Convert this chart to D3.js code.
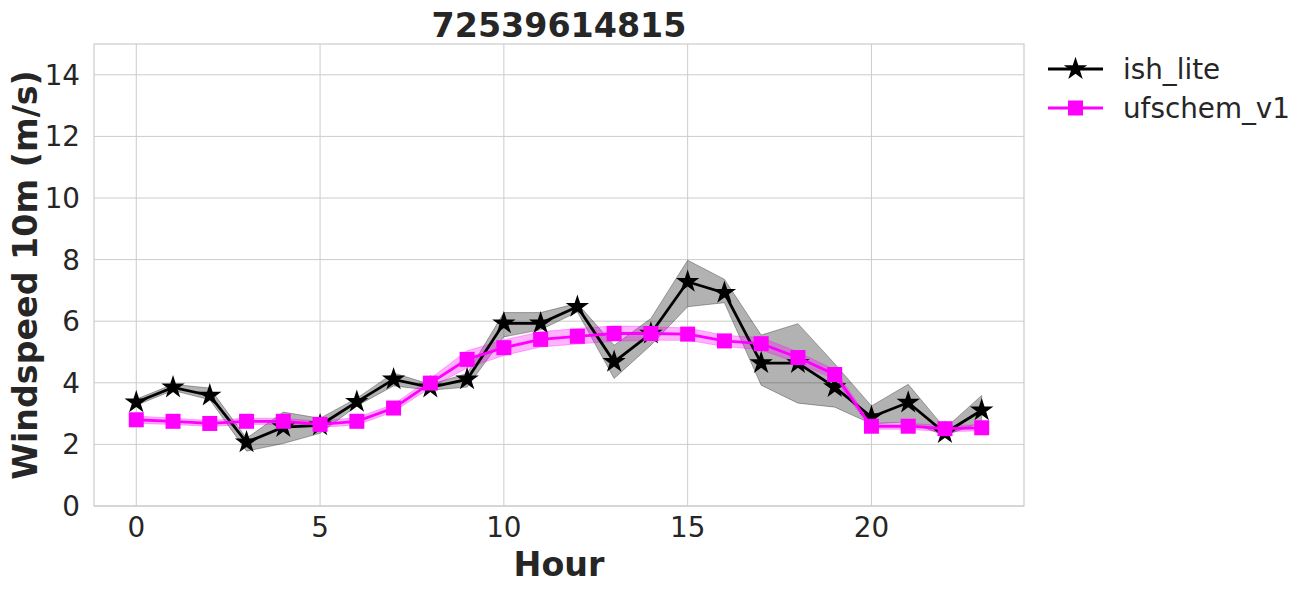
<!DOCTYPE html>
<html>
<head>
<meta charset="utf-8">
<script src="https://cdn.jsdelivr.net/npm/d3@7"></script>
<style>
  body { margin: 0; background: #fff; }
  text { font-family: "DejaVu Sans", sans-serif; fill: #262626; }
</style>
</head>
<body>
<svg width="1303" height="592"></svg>
<script>
// hourly windspeed
const hours = d3.range(0, 24);
const ishMean = [3.37, 3.85, 3.59, 2.07, 2.56, 2.62, 3.38, 4.11, 3.85, 4.11, 5.93, 5.93,
                 6.47, 4.68, 5.6, 7.28, 6.92, 4.64, 4.64, 3.86, 2.89, 3.36, 2.37, 3.11];
const ishLow  = [3.27, 3.75, 3.45, 1.78, 2.03, 2.36, 3.25, 3.9, 3.76, 3.86, 5.49, 5.72,
                 6.3, 4.14, 5.22, 6.47, 6.6, 3.92, 3.34, 3.21, 2.67, 2.73, 2.29, 2.72];
const ishHigh = [3.47, 3.95, 3.83, 2.2, 3.05, 2.85, 3.5, 4.32, 3.95, 4.3, 6.28, 6.28,
                 6.58, 5.22, 6.09, 7.98, 7.36, 5.55, 5.92, 4.62, 3.25, 3.95, 2.52, 3.59];
const ufsMean = [2.8, 2.75, 2.68, 2.75, 2.75, 2.65, 2.75, 3.18, 3.99, 4.76, 5.14, 5.41,
                 5.51, 5.6, 5.6, 5.58, 5.36, 5.27, 4.82, 4.27, 2.59, 2.59, 2.51, 2.54];
const ufsSpread = [0.12, 0.1, 0.1, 0.1, 0.1, 0.1, 0.12, 0.12, 0.15, 0.28, 0.25, 0.25,
                   0.25, 0.25, 0.22, 0.2, 0.18, 0.2, 0.18, 0.15, 0.1, 0.1, 0.1, 0.1];
const xTicks = [0, 5, 10, 15, 20];
const yTicks = [0, 2, 4, 6, 8, 10, 12, 14];
const seriesNames = ["ish_lite", "ufschem_v1"];
const seriesColors = ["#000000", "#ff00ff"];

let svg = d3.select("svg");
let marginLeft = 94, marginTop = 44, width = 930, height = 462;
let g = svg.append("g").attr("transform", "translate(" + marginLeft + "," + marginTop + ")");

let x = d3.scaleLinear().domain([-1.15, 24.15]).range([0, width]);
let y = d3.scaleLinear().domain([0, 15]).range([height, 0]);

// grid
g.selectAll(".gx").data(xTicks).enter().append("line")
    .attr("x1", d => x(d)).attr("x2", d => x(d))
    .attr("y1", 0).attr("y2", height)
    .attr("stroke", "#cccccc").attr("stroke-width", 1);
g.selectAll(".gy").data(yTicks).enter().append("line")
    .attr("x1", 0).attr("x2", width)
    .attr("y1", d => y(d)).attr("y2", d => y(d))
    .attr("stroke", "#cccccc").attr("stroke-width", 1);

// bands
g.append("path")
    .datum(hours)
    .attr("d", d3.area().x((d, i) => x(hours[i]))
        .y0((d, i) => y(ishLow[i])).y1((d, i) => y(ishHigh[i])))
    .attr("fill", "#000").attr("fill-opacity", 0.3)
    .attr("stroke", "#000").attr("stroke-opacity", 0.3).attr("stroke-width", 1);
g.append("path")
    .datum(hours)
    .attr("d", d3.area().x((d, i) => x(hours[i]))
        .y0((d, i) => y(ufsMean[i] - ufsSpread[i]))
        .y1((d, i) => y(ufsMean[i] + ufsSpread[i])))
    .attr("fill", "#ff00ff").attr("fill-opacity", 0.3)
    .attr("stroke", "#ff00ff").attr("stroke-opacity", 0.3).attr("stroke-width", 1);

const line = d3.line().x((d, i) => x(hours[i])).y(d => y(d));
const star = d3.symbol().type(d3.symbolStar).size(170);
const square = d3.symbol().type(d3.symbolSquare).size(225);

// ish_lite
g.append("path").datum(ishMean).attr("d", line)
    .attr("fill", "none").attr("stroke", seriesColors[0]).attr("stroke-width", 2.8);
g.selectAll(".star").data(ishMean).enter().append("path")
    .attr("d", star)
    .attr("transform", (d, i) => "translate(" + x(hours[i]) + "," + y(d) + ")")
    .attr("fill", seriesColors[0]);

// ufschem_v1
g.append("path").datum(ufsMean).attr("d", line)
    .attr("fill", "none").attr("stroke", seriesColors[1]).attr("stroke-width", 2.8);
g.selectAll(".sq").data(ufsMean).enter().append("path")
    .attr("d", square)
    .attr("transform", (d, i) => "translate(" + x(hours[i]) + "," + y(d) + ")")
    .attr("fill", seriesColors[1]);

// frame
g.append("rect").attr("width", width).attr("height", height)
    .attr("fill", "none").attr("stroke", "#cccccc").attr("stroke-width", 1.2);

// tick labels
g.selectAll(".xt").data(xTicks).enter().append("text")
    .attr("x", d => x(d)).attr("y", height + 31)
    .attr("text-anchor", "middle").attr("font-size", "27.8px")
    .text(d => d);
g.selectAll(".yt").data(yTicks).enter().append("text")
    .attr("x", -14).attr("y", d => y(d)).attr("dy", "0.36em")
    .attr("text-anchor", "end").attr("font-size", "27.8px")
    .text(d => d);

// titles
svg.append("text")
    .attr("x", marginLeft + width / 2).attr("y", 37)
    .attr("text-anchor", "middle").attr("font-size", "33.3px").attr("font-weight", "bold")
    .text("72539614815");
svg.append("text")
    .attr("x", marginLeft + width / 2).attr("y", 576)
    .attr("text-anchor", "middle").attr("font-size", "33.3px").attr("font-weight", "bold")
    .text("Hour");
svg.append("text")
    .attr("transform", "translate(37," + (marginTop + height / 2) + ") rotate(-90)")
    .attr("text-anchor", "middle").attr("font-size", "33.3px").attr("font-weight", "bold")
    .text("Windspeed 10m (m/s)");

// legend
let leg = svg.append("g").attr("transform", "translate(1048,69)");
seriesNames.forEach((name, i) => {
    let row = leg.append("g").attr("transform", "translate(0," + (i * 39) + ")");
    row.append("line").attr("x1", 0).attr("x2", 55)
        .attr("stroke", seriesColors[i]).attr("stroke-width", 2.8);
    row.append("path").attr("d", i === 0 ? star : square)
        .attr("transform", "translate(27.5,0)").attr("fill", seriesColors[i]);
    row.append("text").attr("x", 75).attr("dy", "0.36em")
        .attr("font-size", "27.8px").text(name);
});
</script>
</body>
</html>
